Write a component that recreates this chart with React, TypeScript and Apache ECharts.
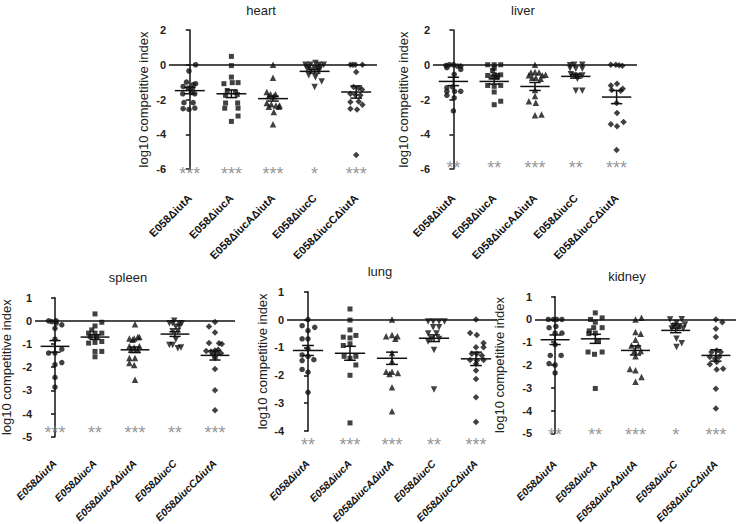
import React, { useEffect, useRef } from "react";
import * as echarts from "echarts";

// ---------- data ----------
const categories = ["E058ΔiutA", "E058ΔiucA", "E058ΔiucAΔiutA", "E058ΔiucC", "E058ΔiucCΔiutA"];
const panelNames = ["heart", "liver", "spleen", "lung", "kidney"];
const yAxisTitle = "log10 competitive index";

// points per group: [x jitter within category, log10 CI]
const heartPoints = [
  [[0.14,0],[-0.02,-0.36],[-0.08,-1.0],[-0.16,-1.25],[0.08,-1.15],[0.14,-1.09],[-0.04,-1.34],[0.06,-1.38],[-0.17,-1.67],[0.04,-1.6],[0.12,-1.67],[-0.14,-2.18],[0.08,-2.18],[-0.16,-2.53],[-0.02,-2.57],[0.12,-2.49]],
  [[0,0.48],[0,-0.05],[0,-0.71],[-0.18,-1.09],[0.02,-1.03],[0.16,-1.03],[-0.1,-1.48],[0.1,-1.58],[-0.14,-1.76],[0.14,-1.72],[-0.14,-2.2],[0.15,-2.2],[-0.16,-2.5],[0.16,-2.5],[0.16,-2.95],[0,-3.26]],
  [[0,0],[0,-0.75],[-0.15,-1.57],[-0.06,-1.7],[0.06,-1.7],[-0.1,-1.8],[0.02,-1.82],[-0.15,-2.2],[-0.04,-2.28],[0.07,-2.34],[0.16,-2.34],[-0.1,-2.42],[0.14,-2.42],[0.02,-2.72],[0,-3.43]],
  [[-0.22,0],[-0.1,0],[0.02,0.1],[0.1,0],[0.22,0],[-0.14,-0.13],[0,-0.2],[0.08,-0.22],[0.15,-0.13],[-0.18,-0.25],[-0.1,-0.33],[0.1,-0.33],[-0.14,-0.6],[0.02,-0.72],[0.17,-0.96],[0,-1.28]],
  [[-0.14,0],[-0.08,0],[-0.02,0],[0.15,0],[0,-0.42],[-0.06,-1.28],[0.06,-1.34],[0.14,-1.42],[-0.14,-1.67],[-0.02,-1.72],[0.1,-1.76],[-0.14,-2.15],[0.06,-2.11],[0.15,-2.3],[-0.14,-2.53],[0.02,-2.57],[0,-5.2]],
];
const liverPoints = [
  [[-0.18,-0.04],[-0.1,0],[0,0],[0.1,-0.08],[-0.16,-0.17],[0.18,-0.08],[0.18,-0.27],[0.02,-0.55],[-0.16,-1.32],[-0.02,-1.28],[0.18,-1.53],[-0.16,-1.53],[0.03,-1.53],[-0.16,-1.76],[0.02,-1.9],[0,-2.66]],
  [[-0.16,0],[0,0],[0.16,0],[0,-0.2],[-0.04,-0.33],[-0.16,-0.62],[0,-0.57],[0.08,-0.62],[0.16,-0.58],[-0.04,-0.7],[0.06,-0.72],[-0.16,-1.19],[0,-1.24],[0.16,-1.19],[0,-1.57],[0.16,-2.1],[0,-2.3]],
  [[0,0],[-0.1,-0.45],[0,-0.42],[0.1,-0.45],[-0.15,-0.61],[0.18,-0.61],[0.26,-0.58],[-0.07,-0.75],[0.02,-0.75],[0.14,-0.8],[0,-1.45],[0,-1.8],[-0.15,-2.1],[0.02,-2.18],[0,-2.9],[0.16,-2.87]],
  [[-0.14,-0.03],[-0.04,0],[0.16,0],[-0.14,-0.2],[0,-0.23],[0.16,-0.23],[-0.12,-0.55],[-0.04,-0.62],[0.04,-0.65],[0.16,-0.62],[0.04,-0.8],[0,-1.5],[0.16,-1.5]],
  [[-0.14,0],[-0.02,0],[0.06,-0.03],[0.14,-0.06],[-0.14,-1.19],[0.01,-1.09],[0.15,-1.38],[-0.12,-1.45],[0.1,-1.5],[0,-2.2],[0.01,-2.78],[-0.14,-3.43],[0.01,-3.54],[0.17,-3.3],[0,-4.9]],
];
const spleenPoints = [
  [[-0.16,0],[-0.08,-0.03],[0.03,0],[0.17,-0.17],[0.03,-0.1],[0,-0.32],[0,-0.79],[-0.16,-1.39],[0,-1.39],[0.17,-1.22],[0.17,-1.8],[0,-1.89],[0,-2.44],[0,-2.86]],
  [[0,0.3],[0.17,-0.06],[0,-0.22],[-0.08,-0.39],[-0.16,-0.53],[0,-0.53],[0.17,-0.53],[-0.12,-0.67],[0.04,-0.7],[-0.16,-0.96],[0,-0.93],[0.17,-0.89],[0,-1.32],[0.17,-1.32],[0,-1.55]],
  [[0,-0.15],[-0.14,-0.76],[-0.02,-0.76],[0.07,-0.7],[0.11,-0.7],[-0.06,-0.82],[-0.14,-1.1],[-0.02,-1.15],[0.11,-1.1],[-0.1,-1.25],[0.07,-1.25],[-0.14,-1.6],[0,-1.6],[-0.14,-1.82],[-0.02,-1.9],[0,-2.54]],
  [[-0.02,0],[-0.14,-0.1],[-0.06,-0.1],[0.11,-0.1],[0.17,-0.1],[0.02,-0.25],[0.11,-0.25],[-0.06,-0.45],[0.07,-0.45],[0.02,-0.8],[-0.14,-1.04],[-0.06,-1.04],[0.07,-1.18],[0.15,-1.15]],
  [[0,-0.05],[-0.15,-0.24],[0,-0.5],[-0.15,-0.96],[0.1,-0.97],[0.17,-1.0],[-0.22,-1.3],[-0.1,-1.32],[0,-1.28],[0.08,-1.25],[0.15,-1.4],[-0.05,-1.45],[0.05,-1.43],[0,-1.6],[0,-2.08],[0,-3.0],[0,-3.86]],
];
const lungPoints = [
  [[0,0],[-0.14,-0.22],[0.16,-0.28],[0,-0.4],[-0.14,-0.69],[0,-0.69],[0,-1.05],[-0.14,-1.27],[0,-1.32],[0.14,-1.44],[-0.14,-1.47],[-0.14,-1.79],[0,-1.89],[0,-2.61]],
  [[0,0.38],[0,-0.02],[0,-0.37],[-0.16,-0.63],[0,-0.66],[0.14,-0.57],[-0.16,-0.93],[0,-0.87],[-0.14,-1.32],[0,-1.39],[0.14,-1.32],[0.14,-1.63],[0,-2.0],[0,-3.71]],
  [[0,0],[-0.14,-0.6],[0,-0.55],[0.13,-0.6],[0.08,-0.69],[0,-1.2],[0,-1.5],[-0.14,-1.87],[0,-1.87],[0.14,-1.92],[-0.06,-1.95],[0,-2.43],[0,-3.29]],
  [[-0.14,-0.07],[-0.02,-0.07],[0.12,-0.07],[0.25,-0.07],[-0.02,-0.28],[0.12,-0.28],[-0.14,-0.5],[0.06,-0.5],[-0.06,-0.7],[0.12,-0.7],[-0.14,-0.79],[0,-1.09],[0,-2.51]],
  [[0,0],[-0.14,-0.48],[0.02,-0.55],[0.18,-0.84],[0,-0.99],[0.18,-0.99],[-0.1,-1.23],[0.02,-1.23],[0.14,-1.29],[-0.14,-1.45],[0.02,-1.47],[0.18,-1.45],[0,-1.59],[0,-1.83],[0,-2.13],[0,-2.79],[0,-3.68]],
];
const kidneyPoints = [
  [[-0.17,0],[-0.04,0],[0.04,0],[0.17,0],[-0.15,-0.36],[0.02,-0.3],[0,-0.6],[0.17,-0.6],[0,-1.1],[-0.12,-1.58],[0.15,-1.58],[-0.15,-1.94],[0,-2.0],[0,-2.35]],
  [[0,0.29],[-0.12,0],[0.17,0.07],[0,-0.12],[-0.04,-0.36],[0.17,-0.36],[-0.15,-0.5],[0,-0.6],[-0.16,-0.62],[0.08,-0.92],[-0.18,-1.43],[-0.02,-1.53],[0.17,-1.43],[0,-3.03]],
  [[0,0],[0.15,0.07],[0,-0.55],[0.13,-0.63],[0,-0.89],[-0.1,-1.14],[0.07,-1.14],[-0.03,-1.38],[0.13,-1.38],[0,-1.62],[-0.14,-2.18],[0,-2.23],[0.15,-2.53],[0,-2.74]],
  [[-0.14,0],[0.15,0.01],[0.02,-0.16],[-0.06,-0.3],[0.23,-0.22],[-0.02,-0.28],[0.1,-0.3],[-0.1,-0.4],[0.05,-0.36],[0.19,-0.4],[0.02,-0.85],[0.15,-1.04],[0.02,-1.21]],
  [[0,0],[0.16,-0.12],[0,-0.41],[0,-0.77],[-0.11,-1.43],[0.02,-1.36],[0.12,-1.43],[-0.15,-1.65],[-0.02,-1.72],[0.08,-1.65],[-0.15,-1.97],[0.02,-1.87],[0.02,-2.2],[0.18,-2.16],[0,-3.04],[0,-3.91]],
];

// mean and SEM per group
const heartMean = [-1.49, -1.67, -1.95, -0.38, -1.57];
const heartSem = [0.18, 0.22, 0.14, 0.1, 0.35];
const liverMean = [-0.96, -0.96, -1.25, -0.67, -1.86];
const liverSem = [0.24, 0.15, 0.23, 0.1, 0.38];
const spleenMean = [-1.1, -0.7, -1.25, -0.57, -1.49];
const spleenSem = [0.25, 0.1, 0.12, 0.1, 0.2];
const lungMean = [-1.11, -1.21, -1.39, -0.67, -1.41];
const lungSem = [0.18, 0.25, 0.22, 0.12, 0.24];
const kidneyMean = [-0.89, -0.85, -1.36, -0.48, -1.58];
const kidneySem = [0.21, 0.2, 0.2, 0.1, 0.25];

// significance
const heartStars = ["***", "***", "***", "*", "***"];
const liverStars = ["**", "**", "***", "**", "***"];
const spleenStars = ["***", "**", "***", "**", "***"];
const lungStars = ["**", "***", "***", "**", "***"];
const kidneyStars = ["**", "**", "***", "*", "***"];

// y ranges [min, max, interval]
const yRanges = [[-6, 2, 2], [-6, 2, 2], [-5, 1, 1], [-4, 1, 1], [-5, 1, 1]];

// ---------- layout ----------
const FONT = "'Liberation Sans', Arial, Helvetica, sans-serif";
const layout = [
  { grid: { left: 169, top: 30, width: 208, height: 139 }, title: [261, 10], nameGap: 19, labelMargin: 27, italic: false, labelSize: 11, starY: -6.0 },
  { grid: { left: 433, top: 30, width: 204, height: 139 }, title: [523, 10], nameGap: 23, labelMargin: 27, italic: false, labelSize: 11, starY: -5.68 },
  { grid: { left: 35, top: 297.7, width: 200, height: 139 }, title: [128, 277], nameGap: 22, labelMargin: 25, italic: true, labelSize: 10.5, starY: -4.64 },
  { grid: { left: 287, top: 291.7, width: 210, height: 139.3 }, title: [380, 271], nameGap: 18, labelMargin: 31, italic: true, labelSize: 10.5, starY: -4.34 },
  { grid: { left: 535, top: 296.7, width: 201, height: 136.6 }, title: [627, 276], nameGap: 29, labelMargin: 29, italic: true, labelSize: 10.5, starY: -4.84 },
];
const symbols = ["circle", "rect", "triangle", "triangle", "diamond"];
const symbolRot = [0, 0, 0, 180, 0];
const symbolSizes = [5.5, 5, 6.5, 6.5, 6.5];

const allPoints = [heartPoints, liverPoints, spleenPoints, lungPoints, kidneyPoints];
const allMeans = [heartMean, liverMean, spleenMean, lungMean, kidneyMean];
const allSems = [heartSem, liverSem, spleenSem, lungSem, kidneySem];
const allStars = [heartStars, liverStars, spleenStars, lungStars, kidneyStars];

function buildOption() {
  const grid: any[] = [];
  const xAxis: any[] = [];
  const yAxis: any[] = [];
  const series: any[] = [];
  const graphic: any[] = [];

  panelNames.forEach((name, p) => {
    const L = layout[p];
    grid.push({ ...L.grid, containLabel: false, outerBoundsMode: "none" });
    xAxis.push({
      type: "category",
      gridIndex: p,
      data: categories,
      boundaryGap: true,
      axisLine: { show: false },
      axisTick: { show: false },
      axisLabel: {
        rotate: 45,
        margin: L.labelMargin,
        fontSize: L.labelSize,
        fontWeight: "bold",
        fontFamily: FONT,
        fontStyle: L.italic ? "italic" : "normal",
        color: "#111",
        interval: 0,
      },
    });
    xAxis.push({
      type: "value",
      gridIndex: p,
      min: -0.5,
      max: 4.5,
      show: false,
    });
    const [ymin, ymax, yint] = yRanges[p];
    yAxis.push({
      type: "value",
      gridIndex: p,
      min: ymin,
      max: ymax,
      interval: yint,
      name: yAxisTitle,
      nameLocation: "middle",
      nameGap: L.nameGap,
      nameTextStyle: { fontSize: 13, fontFamily: FONT, color: "#222" },
      axisLine: { show: true, lineStyle: { color: "#111", width: 1.5 } },
      axisTick: { show: true, length: 4, lineStyle: { color: "#111", width: 1.5 } },
      axisLabel: { fontSize: 11, fontWeight: "bold", fontFamily: FONT, color: "#222", margin: 3 },
      splitLine: { show: false },
    });

    const valAxis = p * 2 + 1;
    allPoints[p].forEach((grp, g) => {
      series.push({
        type: "scatter",
        xAxisIndex: valAxis,
        yAxisIndex: p,
        symbol: symbols[g],
        symbolRotate: symbolRot[g],
        symbolSize: symbolSizes[g],
        itemStyle: { color: "#111" },
        data: grp.map(([dx, y]) => [g + dx, y]),
        z: 3,
        markLine: g === 0 ? {
          silent: true,
          symbol: ["none", "none"],
          label: { show: false },
          lineStyle: { color: "#111", width: 1.5, type: "solid" },
          data: [{ yAxis: 0 }],
          z: 2,
        } : undefined,
      });
    });

    series.push({
      type: "custom",
      xAxisIndex: valAxis,
      yAxisIndex: p,
      z: 4,
      data: allMeans[p].map((m, g) => [g, m, allSems[p][g]]),
      encode: { x: 0, y: 1 },
      renderItem: (params: any, api: any) => {
        const x = api.value(0);
        const m = api.value(1);
        const s = api.value(2);
        const a = api.coord([x - 0.36, m]);
        const b = api.coord([x + 0.36, m]);
        const t1 = api.coord([x - 0.14, m + s]);
        const t2 = api.coord([x + 0.14, m + s]);
        const b1 = api.coord([x - 0.14, m - s]);
        const b2 = api.coord([x + 0.14, m - s]);
        const st = { stroke: "#111", lineWidth: 1.5 };
        return {
          type: "group",
          children: [
            { type: "line", shape: { x1: a[0], y1: a[1], x2: b[0], y2: b[1] }, style: st },
            { type: "line", shape: { x1: t1[0], y1: t1[1], x2: t2[0], y2: t2[1] }, style: st },
            { type: "line", shape: { x1: b1[0], y1: b1[1], x2: b2[0], y2: b2[1] }, style: st },
            { type: "line", shape: { x1: (t1[0] + t2[0]) / 2, y1: t1[1], x2: (b1[0] + b2[0]) / 2, y2: b1[1] }, style: st },
          ],
        };
      },
    });

    series.push({
      type: "scatter",
      xAxisIndex: valAxis,
      yAxisIndex: p,
      clip: false,
      symbolSize: 2,
      itemStyle: { color: "rgba(0,0,0,0)" },
      data: allStars[p].map((s, g) => ({ value: [g, L.starY], name: s })),
      label: {
        show: true,
        position: "inside",
        formatter: (d: any) => d.name,
        fontSize: 18,
        fontFamily: FONT,
        color: "#7a7a7a",
        offset: [0, 5],
      },
      z: 5,
    });

    graphic.push({
      type: "text",
      x: L.title[0],
      y: L.title[1],
      style: {
        text: name,
        fontSize: 13,
        fontFamily: FONT,
        fill: "#222",
        align: "center",
        verticalAlign: "middle",
      },
    });
  });

  return { animation: false, backgroundColor: "#fff", grid, xAxis, yAxis, series, graphic };
}

export default function App() {
  const ref = useRef<HTMLDivElement>(null);
  useEffect(() => {
    if (!ref.current) return;
    const chart = echarts.init(ref.current, null, { renderer: "svg" });
    chart.setOption(buildOption() as any);
    return () => chart.dispose();
  }, []);
  return (
    <div
      ref={ref}
      style={{ position: "fixed", left: 0, top: 0, width: 738, height: 524, background: "#fff" }}
    />
  );
}
